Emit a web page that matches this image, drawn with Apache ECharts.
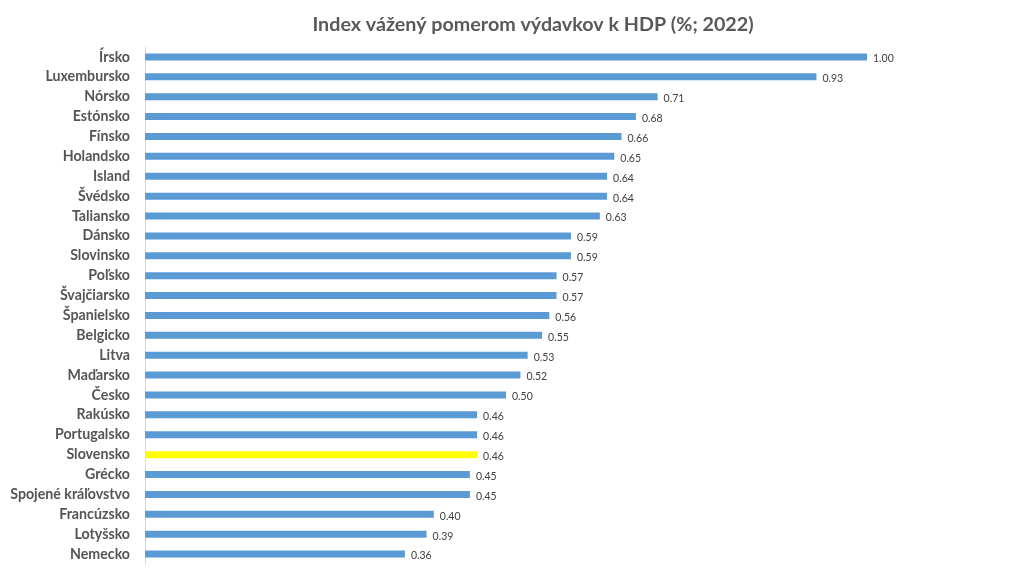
<!DOCTYPE html>
<html>
<head>
<meta charset="utf-8">
<script src="https://cdn.jsdelivr.net/npm/echarts@6/dist/echarts.min.js"></script>
<style>html,body{margin:0;padding:0;background:#fff}#c{width:1024px;height:576px}</style>
</head>
<body>
<div id="c"></div>
<script>
const categories = ["Írsko","Luxembursko","Nórsko","Estónsko","Fínsko","Holandsko","Island","Švédsko","Taliansko","Dánsko","Slovinsko","Poľsko","Švajčiarsko","Španielsko","Belgicko","Litva","Maďarsko","Česko","Rakúsko","Portugalsko","Slovensko","Grécko","Spojené kráľovstvo","Francúzsko","Lotyšsko","Nemecko"];
const values = [1.00,0.93,0.71,0.68,0.66,0.65,0.64,0.64,0.63,0.59,0.59,0.57,0.57,0.56,0.55,0.53,0.52,0.50,0.46,0.46,0.46,0.45,0.45,0.40,0.39,0.36];
const highlight = "Slovensko";
const titleText = "Index vážený pomerom výdavkov k HDP (%; 2022)";

const chart = echarts.init(document.getElementById('c'), null, {renderer:'canvas'});
chart.setOption({
  animation: false,
  backgroundColor: '#ffffff',
  title: {
    text: titleText,
    left: 528, top: 10, textAlign: 'center',
    textStyle: {fontFamily: 'Lato', fontWeight: 'bold', fontSize: 19.7, color: '#595959'}
  },
  grid: {left: 145, right: 157, top: 47, bottom: 12, containLabel: false},
  xAxis: {type: 'value', min: 0, max: 1, show: false, splitLine: {show: false}},
  yAxis: {
    type: 'category', data: categories, inverse: true,
    axisLine: {show: true, lineStyle: {color: '#d9d9d9', width: 1}},
    axisTick: {show: false},
    axisLabel: {margin: 15, fontFamily: 'Lato', fontSize: 14.2, fontWeight: 'bold', color: '#555555'}
  },
  series: [{
    type: 'bar',
    data: values.map((v, i) => ({
      value: v,
      itemStyle: {color: categories[i] === highlight ? '#ffff00' : '#5b9bd5'}
    })),
    barWidth: 7,
    label: {
      show: true, position: 'right', distance: 6, offset: [0, 2],
      formatter: p => p.value.toFixed(2),
      fontFamily: 'Lato', fontSize: 10.5, color: '#404040'
    }
  }]
});
</script>
</body>
</html>
